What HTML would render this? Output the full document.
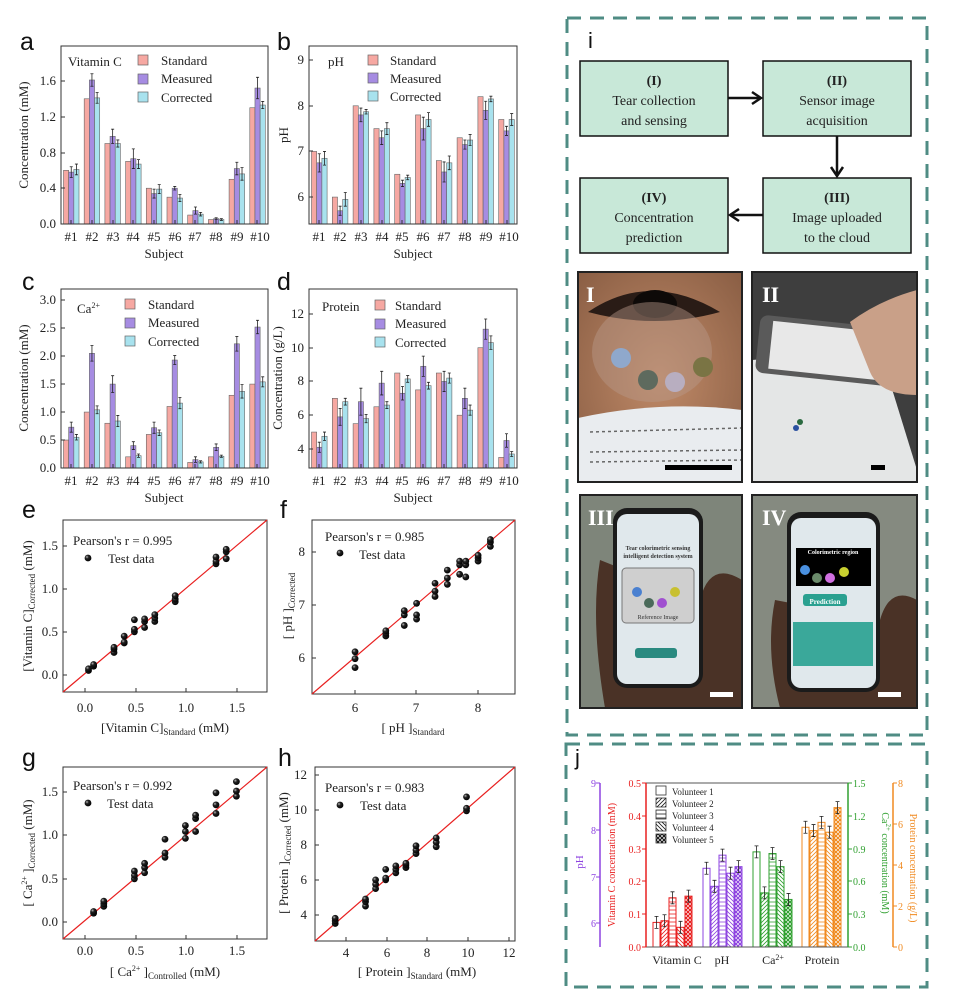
<!DOCTYPE html>
<html><head><meta charset="utf-8"><style>
html,body{margin:0;padding:0;background:#fff;}
svg{display:block;font-family:"Liberation Serif",serif;}
.L{font-family:"Liberation Sans","DejaVu Sans",sans-serif;font-size:25px;fill:#111;}
.t{font-size:13px;fill:#222;}
.s{font-size:10px;fill:#222;}
</style></head><body>
<svg id="s" width="955" height="997" viewBox="0 0 955 997" xmlns="http://www.w3.org/2000/svg">
<defs>
<radialGradient id="dot" cx="0.35" cy="0.35" r="0.7"><stop offset="0" stop-color="#bbb"/><stop offset="0.35" stop-color="#222"/><stop offset="1" stop-color="#000"/></radialGradient>
<radialGradient id="skin" cx="0.5" cy="0.5" r="0.7"><stop offset="0" stop-color="#c08a68"/><stop offset="1" stop-color="#8a5e44"/></radialGradient>
<clipPath id="c1"><rect x="578" y="272" width="164" height="210"/></clipPath>
<clipPath id="c2"><rect x="752" y="272" width="165" height="210"/></clipPath>
<clipPath id="c3"><rect x="580" y="495" width="162" height="213"/></clipPath>
<clipPath id="c4"><rect x="752" y="495" width="165" height="213"/></clipPath>
</defs>

<!-- panel letters -->
<text class="L" x="20" y="50">a</text><text class="L" x="277" y="50">b</text>
<text class="L" x="22" y="290">c</text><text class="L" x="277" y="290">d</text>
<text class="L" x="22" y="518">e</text><text class="L" x="280" y="518">f</text>
<text class="L" x="22" y="766">g</text><text class="L" x="278" y="766">h</text>
<text class="L" x="588" y="48" style="font-size:22px">i</text>
<text class="L" x="575" y="765" style="font-size:22px">j</text>

<!-- a -->
<g class="t" text-anchor="end"><text x="56" y="228">0.0</text><text x="56" y="192">0.4</text><text x="56" y="157">0.8</text><text x="56" y="121">1.2</text><text x="56" y="85">1.6</text></g>
<text class="t" transform="translate(28,135) rotate(-90)" text-anchor="middle">Concentration (mM)</text>
<g class="t" text-anchor="middle"><text x="71" y="241">#1</text><text x="92" y="241">#2</text><text x="113" y="241">#3</text><text x="133" y="241">#4</text><text x="154" y="241">#5</text><text x="175" y="241">#6</text><text x="195" y="241">#7</text><text x="216" y="241">#8</text><text x="237" y="241">#9</text><text x="260" y="241">#10</text><text x="164" y="258">Subject</text></g>
<text class="t" x="68" y="66">Vitamin C</text>
<g class="t"><text x="161" y="65">Standard</text><text x="161" y="83">Measured</text><text x="161" y="102">Corrected</text></g>
<!-- b -->
<g class="t" text-anchor="end"><text x="304" y="64">9</text><text x="304" y="110">8</text><text x="304" y="155">7</text><text x="304" y="201">6</text></g>
<text class="t" transform="translate(288,135) rotate(-90)" text-anchor="middle">pH</text>
<g class="t" text-anchor="middle"><text x="319" y="241">#1</text><text x="340" y="241">#2</text><text x="361" y="241">#3</text><text x="382" y="241">#4</text><text x="402" y="241">#5</text><text x="423" y="241">#6</text><text x="444" y="241">#7</text><text x="465" y="241">#8</text><text x="486" y="241">#9</text><text x="509" y="241">#10</text><text x="413" y="258">Subject</text></g>
<text class="t" x="328" y="66">pH</text>
<g class="t"><text x="390" y="65">Standard</text><text x="390" y="83">Measured</text><text x="390" y="101">Corrected</text></g>
<!-- c -->
<g class="t" text-anchor="end"><text x="56" y="472">0.0</text><text x="56" y="444">0.5</text><text x="56" y="416">1.0</text><text x="56" y="388">1.5</text><text x="56" y="360">2.0</text><text x="56" y="332">2.5</text><text x="56" y="304">3.0</text></g>
<text class="t" transform="translate(28,378) rotate(-90)" text-anchor="middle">Concentration (mM)</text>
<g class="t" text-anchor="middle"><text x="71" y="485">#1</text><text x="92" y="485">#2</text><text x="113" y="485">#3</text><text x="133" y="485">#4</text><text x="154" y="485">#5</text><text x="175" y="485">#6</text><text x="195" y="485">#7</text><text x="216" y="485">#8</text><text x="237" y="485">#9</text><text x="260" y="485">#10</text><text x="164" y="502">Subject</text></g>
<text class="t" x="77" y="313">Ca<tspan dy="-5" font-size="8">2+</tspan></text>
<g class="t"><text x="148" y="309">Standard</text><text x="148" y="327">Measured</text><text x="148" y="346">Corrected</text></g>
<!-- d -->
<g class="t" text-anchor="end"><text x="304" y="453">4</text><text x="304" y="419">6</text><text x="304" y="385">8</text><text x="304" y="352">10</text><text x="304" y="318">12</text></g>
<text class="t" transform="translate(282,378) rotate(-90)" text-anchor="middle">Concentration (g/L)</text>
<g class="t" text-anchor="middle"><text x="319" y="485">#1</text><text x="340" y="485">#2</text><text x="361" y="485">#3</text><text x="382" y="485">#4</text><text x="402" y="485">#5</text><text x="423" y="485">#6</text><text x="444" y="485">#7</text><text x="465" y="485">#8</text><text x="486" y="485">#9</text><text x="509" y="485">#10</text><text x="413" y="502">Subject</text></g>
<text class="t" x="322" y="311">Protein</text>
<g class="t"><text x="395" y="310">Standard</text><text x="395" y="328">Measured</text><text x="395" y="347">Corrected</text></g>

<!-- e -->
<g class="t" text-anchor="end"><text x="58" y="679">0.0</text><text x="58" y="636">0.5</text><text x="58" y="593">1.0</text><text x="58" y="550">1.5</text></g>
<g class="t" text-anchor="middle"><text x="85" y="712">0.0</text><text x="136" y="712">0.5</text><text x="186" y="712">1.0</text><text x="237" y="712">1.5</text>
<text x="165" y="732">[Vitamin C]<tspan font-size="9" dy="3">Standard</tspan><tspan dy="-3"> (mM)</tspan></text></g>
<text class="t" transform="translate(32,606) rotate(-90)" text-anchor="middle">[Vitamin C]<tspan font-size="9" dy="3">Corrected</tspan><tspan dy="-3"> (mM)</tspan></text>
<text class="t" x="73" y="545">Pearson's r = 0.995</text><text class="t" x="108" y="563">Test data</text>
<!-- f -->
<g class="t" text-anchor="end"><text x="305" y="662">6</text><text x="305" y="609">7</text><text x="305" y="556">8</text></g>
<g class="t" text-anchor="middle"><text x="355" y="712">6</text><text x="416" y="712">7</text><text x="478" y="712">8</text>
<text x="413" y="732">[ pH ]<tspan font-size="9" dy="3">Standard</tspan></text></g>
<text class="t" transform="translate(292,606) rotate(-90)" text-anchor="middle">[ pH ]<tspan font-size="9" dy="3">Corrected</tspan></text>
<text class="t" x="325" y="541">Pearson's r = 0.985</text><text class="t" x="359" y="559">Test data</text>
<!-- g -->
<g class="t" text-anchor="end"><text x="58" y="926">0.0</text><text x="58" y="883">0.5</text><text x="58" y="839">1.0</text><text x="58" y="796">1.5</text></g>
<g class="t" text-anchor="middle"><text x="85" y="955">0.0</text><text x="136" y="955">0.5</text><text x="186" y="955">1.0</text><text x="237" y="955">1.5</text>
<text x="165" y="976">[ Ca<tspan font-size="8" dy="-5">2+</tspan><tspan dy="5"> ]</tspan><tspan font-size="9" dy="3">Controlled</tspan><tspan dy="-3"> (mM)</tspan></text></g>
<text class="t" transform="translate(32,853) rotate(-90)" text-anchor="middle">[ Ca<tspan font-size="8" dy="-5">2+</tspan><tspan dy="5"> ]</tspan><tspan font-size="9" dy="3">Corrected</tspan><tspan dy="-3"> (mM)</tspan></text>
<text class="t" x="73" y="790">Pearson's r = 0.992</text><text class="t" x="107" y="808">Test data</text>
<!-- h -->
<g class="t" text-anchor="end"><text x="307" y="919">4</text><text x="307" y="884">6</text><text x="307" y="849">8</text><text x="307" y="814">10</text><text x="307" y="779">12</text></g>
<g class="t" text-anchor="middle"><text x="346" y="957">4</text><text x="387" y="957">6</text><text x="427" y="957">8</text><text x="468" y="957">10</text><text x="509" y="957">12</text>
<text x="417" y="976">[ Protein ]<tspan font-size="9" dy="3">Standard</tspan><tspan dy="-3"> (mM)</tspan></text></g>
<text class="t" transform="translate(288,853) rotate(-90)" text-anchor="middle">[ Protein ]<tspan font-size="9" dy="3">Corrected</tspan><tspan dy="-3"> (mM)</tspan></text>
<text class="t" x="325" y="792">Pearson's r = 0.983</text><text class="t" x="360" y="810">Test data</text>

<!-- i frame -->
<rect x="567" y="18" width="360" height="717" fill="none" stroke="#4f8c84" stroke-width="3" stroke-dasharray="14,9"/>
<rect x="566" y="744" width="361" height="243" fill="none" stroke="#4f8c84" stroke-width="3" stroke-dasharray="14,9"/>
<g fill="#c8e8d8" stroke="#111" stroke-width="1.5">
<rect x="580" y="61" width="148" height="75"/><rect x="763" y="61" width="148" height="75"/>
<rect x="763" y="178" width="148" height="75"/><rect x="580" y="178" width="148" height="75"/></g>
<g class="t" text-anchor="middle" style="font-size:14px">
<text x="654" y="85" font-weight="bold">(I)</text><text x="654" y="105">Tear collection</text><text x="654" y="125">and sensing</text>
<text x="837" y="85" font-weight="bold">(II)</text><text x="837" y="105">Sensor image</text><text x="837" y="125">acquisition</text>
<text x="837" y="202" font-weight="bold">(III)</text><text x="837" y="222">Image uploaded</text><text x="837" y="242">to the cloud</text>
<text x="654" y="202" font-weight="bold">(IV)</text><text x="654" y="222">Concentration</text><text x="654" y="242">prediction</text></g>
<g stroke="#111" stroke-width="2.5" fill="none">
<line x1="728" y1="98" x2="760" y2="98"/><polyline points="752,92 761,98 752,104"/>
<line x1="837" y1="136" x2="837" y2="175"/><polyline points="831,167 837,176 843,167"/>
<line x1="763" y1="215" x2="731" y2="215"/><polyline points="739,209 730,215 739,221"/></g>

<!-- photo I -->
<g clip-path="url(#c1)">
<rect x="578" y="272" width="164" height="210" fill="url(#skin)"/>
<path d="M588,312 Q650,270 720,312 Q655,330 588,312Z" fill="#2a1c16"/>
<ellipse cx="655" cy="304" rx="22" ry="14" fill="#0e0a08"/>
<ellipse cx="652" cy="352" rx="60" ry="50" fill="#b89a8a" opacity="0.45"/>
<circle cx="621" cy="358" r="10" fill="#8fa8cc"/><circle cx="648" cy="380" r="10" fill="#5e6a5e"/><circle cx="675" cy="382" r="10" fill="#b8aec0"/><circle cx="703" cy="367" r="10" fill="#7a7444"/>
<path d="M578,418 Q660,400 742,410 L742,482 L578,482Z" fill="#e9ecef"/>
<g stroke="#666" stroke-width="1.5" stroke-dasharray="3,3"><line x1="590" y1="432" x2="742" y2="428"/><line x1="590" y1="452" x2="742" y2="450"/><line x1="590" y1="462" x2="742" y2="460"/></g>
<rect x="665" y="465" width="67" height="5" fill="#000"/>
</g>
<rect x="578" y="272" width="164" height="210" fill="none" stroke="#222" stroke-width="2"/>
<!-- photo II -->
<g clip-path="url(#c2)">
<rect x="752" y="272" width="165" height="210" fill="#3e3e3e"/>
<polygon points="752,360 880,350 917,470 917,482 752,482" fill="#e4e6e6"/>
<g transform="rotate(6 830 355)"><rect x="757" y="322" width="148" height="58" rx="8" fill="#5a5a5a"/><rect x="770" y="327" width="108" height="48" fill="#e8e8e8"/><circle cx="880" cy="352" r="8" fill="#eee"/></g>
<path d="M850,322 Q880,300 917,290 L917,395 Q880,395 870,372Z" fill="#c9a088"/>
<circle cx="800" cy="422" r="3" fill="#2a6a40"/><circle cx="796" cy="428" r="3" fill="#2a50a0"/>
<rect x="871" y="465" width="14" height="5" fill="#000"/>
</g>
<rect x="752" y="272" width="165" height="210" fill="none" stroke="#222" stroke-width="2"/>
<!-- photo III -->
<g clip-path="url(#c3)">
<rect x="580" y="495" width="162" height="213" fill="#7e857a"/>
<path d="M600,560 Q590,620 605,708 L742,708 L742,580 Q710,560 700,600Z" fill="#4a3226"/>
<rect x="613" y="508" width="90" height="180" rx="14" fill="#1b1b1b"/>
<rect x="617" y="514" width="82" height="170" rx="10" fill="#e0e8ec"/>
<rect x="622" y="568" width="72" height="55" rx="4" fill="#cfcfcf" stroke="#777"/>
<circle cx="637" cy="592" r="5" fill="#4a80d0"/><circle cx="649" cy="603" r="5" fill="#4a6a5a"/><circle cx="662" cy="603" r="5" fill="#a050d0"/><circle cx="675" cy="592" r="5" fill="#c8c030"/>
<rect x="635" y="648" width="42" height="10" rx="3" fill="#2a8a80"/>
<rect x="710" y="692" width="23" height="5" fill="#fff"/>
</g>
<text x="658" y="550" font-size="6" text-anchor="middle" fill="#333" font-weight="bold">Tear colorimetric sensing</text>
<text x="658" y="558" font-size="6" text-anchor="middle" fill="#333" font-weight="bold">intelligent detection system</text>
<text x="658" y="619" font-size="6" text-anchor="middle" fill="#333">Reference Image</text>
<rect x="580" y="495" width="162" height="213" fill="none" stroke="#222" stroke-width="2"/>
<!-- photo IV -->
<g clip-path="url(#c4)">
<rect x="752" y="495" width="165" height="213" fill="#858a80"/>
<path d="M775,600 Q765,650 780,708 L917,708 L917,600 Q890,585 880,620Z" fill="#4a3226"/>
<rect x="787" y="512" width="93" height="180" rx="14" fill="#1b1b1b"/>
<rect x="791" y="518" width="85" height="170" rx="10" fill="#e0e8ec"/>
<rect x="796" y="548" width="75" height="38" fill="#000"/>
<circle cx="805" cy="570" r="5" fill="#4a90e0"/><circle cx="817" cy="578" r="5" fill="#6a8a6a"/><circle cx="830" cy="578" r="5" fill="#d070e0"/><circle cx="844" cy="572" r="5" fill="#c8d030"/>
<rect x="803" y="594" width="44" height="12" rx="3" fill="#2aa090"/>
<rect x="793" y="622" width="80" height="44" fill="#3aa89a"/>
<rect x="878" y="692" width="23" height="5" fill="#fff"/>
</g>
<text x="833" y="554" font-size="6" text-anchor="middle" fill="#fff" font-weight="bold">Colorimetric region</text>
<text x="825" y="604" font-size="7" text-anchor="middle" fill="#fff" font-weight="bold">Prediction</text>
<rect x="752" y="495" width="165" height="213" fill="none" stroke="#222" stroke-width="2"/>
<g font-size="22" fill="#fff" font-weight="bold"><text x="586" y="302">I</text><text x="762" y="302">II</text><text x="588" y="525">III</text><text x="762" y="525">IV</text></g>

<!-- j axes labels -->
<g font-size="10" fill="#8e44e0" text-anchor="end"><text x="596" y="787">9</text><text x="596" y="834">8</text><text x="596" y="881">7</text><text x="596" y="927">6</text></g>
<text font-size="11" fill="#8e44e0" transform="translate(583,862) rotate(-90)" text-anchor="middle">pH</text>
<g font-size="10" fill="#e82020" text-anchor="end"><text x="641" y="787">0.5</text><text x="641" y="820">0.4</text><text x="641" y="853">0.3</text><text x="641" y="885">0.2</text><text x="641" y="918">0.1</text><text x="641" y="951">0.0</text></g>
<text font-size="10" fill="#e82020" transform="translate(615,865) rotate(-90)" text-anchor="middle">Vitamin C concentration (mM)</text>
<g font-size="10" fill="#30a030"><text x="853" y="787">1.5</text><text x="853" y="820">1.2</text><text x="853" y="853">0.9</text><text x="853" y="885">0.6</text><text x="853" y="918">0.3</text><text x="853" y="951">0.0</text></g>
<text font-size="10" fill="#30a030" transform="translate(882,863) rotate(90)" text-anchor="middle">Ca<tspan font-size="7" dy="-4">2+</tspan><tspan dy="4"> concentration (mM)</tspan></text>
<g font-size="10" fill="#f08a20"><text x="898" y="787">8</text><text x="898" y="828">6</text><text x="898" y="869">4</text><text x="898" y="910">2</text><text x="898" y="951">0</text></g>
<text font-size="10" fill="#f08a20" transform="translate(910,868) rotate(90)" text-anchor="middle">Protein concentration (g/L)</text>
<g class="s" style="font-size:9px"><text x="672" y="795">Volunteer 1</text><text x="672" y="807">Volunteer 2</text><text x="672" y="819">Volunteer 3</text><text x="672" y="831">Volunteer 4</text><text x="672" y="843">Volunteer 5</text></g>
<g class="t" style="font-size:12px" text-anchor="middle"><text x="677" y="964">Vitamin C</text><text x="722" y="964">pH</text><text x="773" y="964">Ca<tspan font-size="8" dy="-4">2+</tspan></text><text x="822" y="964">Protein</text></g>
</svg>
<script>
var NS='http://www.w3.org/2000/svg',S=document.getElementById('s'),D=S.querySelector('defs');
function el(t,a,p){var e=document.createElementNS(NS,t);for(var k in a)e.setAttribute(k,a[k]);(p||S).appendChild(e);return e;}
var COL=['#f6a8a2','#a68ce2','#a8e2ee'];
function bars(x0,x1,yt,yb,vmin,vmax,data,eb){
 var gw=(x1-x0)/10,bw=gw*0.25,off=gw*0.12,sc=(yb-yt)/(vmax-vmin);
 for(var i=0;i<10;i++)for(var k=0;k<3;k++){var v=data[k][i],y=yb-(v-vmin)*sc,x=x0+gw*i+off+k*bw;
  el('rect',{x:x,y:y,width:bw,height:yb-y,fill:COL[k],stroke:'#666','stroke-width':0.6});
  if(k>0){var e=eb[k-1][i]*sc,cx=x+bw/2;el('path',{d:'M'+cx+','+(y-e)+'V'+(y+e)+'M'+(cx-1.5)+','+(y-e)+'h3M'+(cx-1.5)+','+(y+e)+'h3',stroke:'#222','stroke-width':0.8,fill:'none'});}}
 el('rect',{x:x0,y:yt,width:x1-x0,height:yb-yt,fill:'none',stroke:'#333','stroke-width':1});
}
function yt(x,ys,len){ys.forEach(function(y){el('line',{x1:x,y1:y,x2:x+(len||4),y2:y,stroke:'#333','stroke-width':1});});}
function xt(y,xs){xs.forEach(function(x){el('line',{x1:x,y1:y,x2:x,y2:y-4,stroke:'#333','stroke-width':1});});}
function leg(x,ys){ys.forEach(function(y,k){el('rect',{x:x-5,y:y-5,width:10,height:10,fill:COL[k],stroke:'#666','stroke-width':0.7});});}
var gxa=[71,92,113,133,154,175,195,216,237,257],gxb=[319,340,361,382,402,423,444,465,486,507];
bars(61,268,46,224,0,1.99,[[.6,1.4,.9,.7,.4,.3,.1,.05,.5,1.3],[.58,1.61,.98,.73,.34,.4,.15,.06,.62,1.52],[.61,1.41,.9,.67,.39,.29,.11,.05,.56,1.33]],[[.06,.07,.08,.11,.05,.02,.04,.01,.07,.12],[.06,.06,.04,.05,.05,.04,.02,.01,.07,.04]]);
yt(61,[224,188,153,117,81]);xt(224,gxa);leg(143,[60,79,97]);
bars(309,517,46,224,5.41,9.31,[[7,6,8,7.5,6.5,7.8,6.8,7.3,8.2,7.7],[6.75,5.7,7.8,7.3,6.3,7.5,6.55,7.15,7.9,7.45],[6.85,5.95,7.87,7.5,6.43,7.7,6.75,7.25,8.15,7.7]],[[.2,.1,.15,.15,.07,.25,.22,.1,.2,.1],[.15,.15,.05,.13,.05,.15,.15,.12,.06,.13]]);
yt(309,[60,106,151,197]);xt(224,gxb);leg(373,[60,78,96]);
bars(61,268,289,468,0,3.2,[[.5,1,.8,.2,.6,1.1,.1,.2,1.3,1.5],[.73,2.05,1.5,.4,.72,1.93,.15,.37,2.22,2.52],[.55,1.04,.84,.22,.63,1.16,.11,.21,1.37,1.54]],[[.09,.14,.15,.07,.1,.08,.05,.06,.13,.12],[.05,.07,.1,.03,.05,.1,.02,.02,.12,.09]]);
yt(61,[468,440,412,384,356,328,300]);xt(468,gxa);leg(130,[304,323,341]);
bars(309,517,289,468,2.87,13.48,[[5,7,5.5,6.5,8.5,7.5,8.5,6,10,3.5],[4.1,5.9,6.8,7.9,7.3,8.9,8,7,11.1,4.5],[4.75,6.8,5.8,6.6,8.15,7.75,8.2,6.3,10.3,3.7]],[[.3,.5,.8,.7,.4,.6,.6,.6,.6,.4],[.25,.2,.25,.2,.2,.2,.3,.3,.4,.15]]);
yt(309,[449,415,381,348,314]);xt(468,gxb);leg(380,[305,324,342]);
function scat(x0,x1,y0,y1,xmn,xmx,ymn,ymx,pts,xts,yts,dot){
 el('rect',{x:x0,y:y0,width:x1-x0,height:y1-y0,fill:'none',stroke:'#333','stroke-width':1});
 el('line',{x1:x0,y1:y1,x2:x1,y2:y0,stroke:'#e82020','stroke-width':1.2});
 yt(x0,yts);xt(y1,xts);
 for(var i=0;i<pts.length;i+=2){el('circle',{cx:x0+(pts[i]-xmn)/(xmx-xmn)*(x1-x0),cy:y1-(pts[i+1]-ymn)/(ymx-ymn)*(y1-y0),r:3.4,fill:'url(#dot)'});}
 el('circle',{cx:dot[0],cy:dot[1],r:3.4,fill:'url(#dot)'});
}
scat(63,267,520,692,-.2,1.8,-.2,1.8,[.05,.05,.05,.07,.1,.1,.1,.12,.3,.26,.3,.3,.3,.32,.4,.37,.4,.38,.4,.45,.5,.5,.5,.53,.5,.64,.6,.55,.6,.62,.6,.65,.7,.62,.7,.66,.7,.7,.9,.85,.9,.88,.9,.92,1.3,1.29,1.3,1.32,1.3,1.37,1.4,1.35,1.4,1.43,1.4,1.46],[85,136,186,237],[675,632,589,546],[88,558]);
scat(312,515,520,694,5.3,8.6,5.3,8.6,[6,5.8,6,5.97,6,6.1,6.5,6.4,6.5,6.45,6.5,6.5,6.8,6.6,6.8,6.8,6.8,6.88,7,6.72,7,6.8,7,7.02,7.3,7.15,7.3,7.25,7.3,7.4,7.5,7.38,7.5,7.5,7.5,7.65,7.7,7.57,7.7,7.75,7.7,7.82,7.8,7.52,7.8,7.75,7.8,7.82,8,7.82,8,7.88,8,7.93,8.2,8.1,8.2,8.18,8.2,8.23],[355,416,478],[658,605,552],[340,553]);
scat(63,267,767,939,-.2,1.8,-.2,1.8,[.1,.1,.1,.12,.2,.18,.2,.21,.2,.24,.5,.5,.5,.54,.5,.59,.6,.57,.6,.63,.6,.68,.8,.75,.8,.8,.8,.96,1,.97,1,1.05,1,1.12,1.1,1.05,1.1,1.2,1.1,1.24,1.3,1.26,1.3,1.36,1.3,1.5,1.5,1.46,1.5,1.52,1.5,1.63],[85,136,186,237],[922,879,835,792],[88,803]);
scat(315,515,767,941,2.5,12.4,2.5,12.46,[3.5,3.5,3.5,3.65,3.5,3.8,5,4.5,5,4.75,5,4.9,5.5,5.5,5.5,5.75,5.5,6,6,6,6,6.1,6,6.6,6.5,6.4,6.5,6.6,6.5,6.8,7,6.7,7,6.85,7,6.95,7.5,7.5,7.5,7.7,7.5,7.95,8.5,7.9,8.5,8.15,8.5,8.4,10,9.95,10,10.1,10,10.75],[346,387,427,468,509],[915,880,845,810,775],[340,805]);
var JC=['#e82020','#8e44e0','#30a030','#f08a20'];
JC.forEach(function(c,ci){
 for(var p=0;p<5;p++){var pt=el('pattern',{id:'p'+ci+p,patternUnits:'userSpaceOnUse',width:4,height:4},D);
  var d=['','M0,4L4,0M-1,1L1,-1M3,5L5,3','M0,2H4','M0,0L4,4M-1,3L1,5M3,-1L5,1','M0,0L4,4M0,4L4,0'][p];
  if(d)el('path',{d:d,stroke:c,'stroke-width':p==4?1.2:0.8},pt);}
});
var jd=[[.075,.08,.15,.06,.155],[.24,.185,.28,.225,.245],[.29,.165,.285,.245,.145],[.365,.355,.38,.35,.425]];
var jx=[653,703,753,802];
jd.forEach(function(g,gi){g.forEach(function(v,k){var x=jx[gi]+k*8,y=947-v*328;
 el('rect',{x:x,y:y,width:7,height:947-y,fill:'#fff',stroke:JC[gi],'stroke-width':1});
 if(k>0)el('rect',{x:x,y:y,width:7,height:947-y,fill:'url(#p'+gi+k+')'});
 var e=6;el('path',{d:'M'+(x+3.5)+','+(y-e)+'V'+(y+e)+'M'+(x+1.5)+','+(y-e)+'h4M'+(x+1.5)+','+(y+e)+'h4',stroke:'#222','stroke-width':0.8,fill:'none'});});});
el('rect',{x:646,y:783,width:202,height:164,fill:'none',stroke:'#555','stroke-width':1});
el('line',{x1:646,y1:783,x2:646,y2:947,stroke:'#e82020','stroke-width':1.5});
el('line',{x1:848,y1:783,x2:848,y2:947,stroke:'#30a030','stroke-width':1.5});
el('line',{x1:600,y1:783,x2:600,y2:947,stroke:'#8e44e0','stroke-width':1.5});
el('line',{x1:893,y1:783,x2:893,y2:947,stroke:'#f08a20','stroke-width':1.5});
[[600,[783,830,877,923],'#8e44e0'],[646,[783,816,849,881,914,947],'#e82020']].forEach(function(a){a[1].forEach(function(y){el('line',{x1:a[0],y1:y,x2:a[0]-4,y2:y,stroke:a[2]});});});
[[848,[783,816,849,881,914,947],'#30a030'],[893,[783,824,865,906,947],'#f08a20']].forEach(function(a){a[1].forEach(function(y){el('line',{x1:a[0],y1:y,x2:a[0]+4,y2:y,stroke:a[2]});});});
for(var k=0;k<5;k++){el('rect',{x:656,y:786+k*12,width:10,height:9,fill:'#fff',stroke:'#333','stroke-width':0.8});
 if(k>0)el('rect',{x:656,y:786+k*12,width:10,height:9,fill:'url(#p1'+k+')',style:'filter:grayscale(1) brightness(0.3)'});}
</script>
</body></html>
